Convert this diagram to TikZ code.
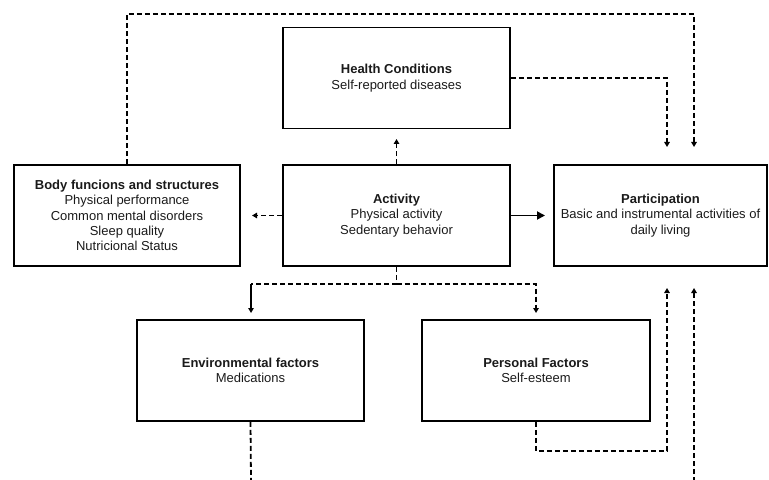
\documentclass[tikz,border=0pt]{standalone}
\usepackage{fontspec}
\setmainfont{Liberation Sans}
\usetikzlibrary{arrows.meta}
\definecolor{txt}{HTML}{1A1A1A}
\tikzset{
  box/.style={draw, line width=1.8bp, minimum width=#1, minimum height=101bp, inner sep=0pt, align=center, font=\fontsize{13bp}{15.4bp}\selectfont, text=txt},
  dline/.style={line width=1.8bp, dash pattern=on 5bp off 3bp},
  sline/.style={line width=1.8bp},
  stip/.style={-{Triangle[width=5.5bp,length=5bp]}},
  btip/.style={-{Triangle[width=8bp,length=8bp]}},
}
\begin{document}
\begin{tikzpicture}[x=1bp,y=-1bp]
\useasboundingbox (0,0) rectangle (769,480);
\node[box=227bp] (hc) at (396.5,78) {\textbf{Health Conditions}\\Self-reported diseases};
\node[box=226bp] (body) at (127,215.5) {\textbf{Body funcions and structures}\\Physical performance\\Common mental disorders\\Sleep quality\\Nutricional Status};
\node[box=227bp] (act) at (396.5,215.5) {\textbf{Activity}\\Physical activity\\Sedentary behavior};
\node[box=213bp] (part) at (660.5,215.5) {\textbf{Participation}\\Basic and instrumental activities of\\daily living};
\node[box=227bp] (env) at (250.5,370.5) {\textbf{Environmental factors}\\Medications};
\node[box=228bp] (pers) at (536,370.5) {\textbf{Personal Factors}\\Self-esteem};
% free ends
\coordinate (topA) at (694,147);
\coordinate (topB) at (667,147);
\coordinate (botA) at (667,288);
\coordinate (botB) at (694,288);
\coordinate (hcIn) at (396.5,139);
\coordinate (bodyIn) at (252,215.5);
\coordinate (partIn) at (545,215.5);
\coordinate (split) at (396.5,284);
\coordinate (envIn) at (251,313);
\coordinate (persIn) at (536,313);
\coordinate (envOut) at (251,482);
\coordinate (bottomIn) at (694,482);
% connectors
\draw[dline,stip] (body.north) -- (127,14) -- (694,14) -- (topA);
\draw[dline,stip] (hc.east) -- (667,78) -- (topB);
\draw[dline,stip] (act.north) -- (hcIn);
\draw[dline,stip] (act.west) -- (bodyIn);
\draw[sline,btip] (act.east) -- (partIn);
\draw[dline] (act.south) -- (split);
\draw[dline] (split) -- (251,284);
\draw[sline,stip] (251,284) -- (envIn);
\draw[dline,stip] (split) -- (536,284) -- (persIn);
\draw[dline] (env.south) -- (envOut);
\draw[dline,stip] (pers.south) -- (536,451) -- (667,451) -- (botA);
\draw[dline,stip] (bottomIn) -- (botB);
\end{tikzpicture}
\end{document}
